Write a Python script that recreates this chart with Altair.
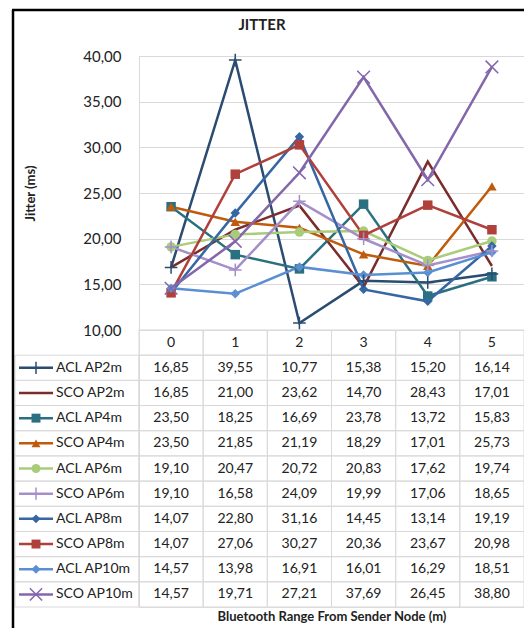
import altair as alt
import pandas as pd

ranges = ["0", "1", "2", "3", "4", "5"]
series_names = ["ACL AP2m", "SCO AP2m", "ACL AP4m", "SCO AP4m", "ACL AP6m",
                "SCO AP6m", "ACL AP8m", "SCO AP8m", "ACL AP10m", "SCO AP10m"]

acl_ap2m = [16.85, 39.55, 10.77, 15.38, 15.20, 16.14]
sco_ap2m = [16.85, 21.00, 23.62, 14.70, 28.43, 17.01]
acl_ap4m = [23.50, 18.25, 16.69, 23.78, 13.72, 15.83]
sco_ap4m = [23.50, 21.85, 21.19, 18.29, 17.01, 25.73]
acl_ap6m = [19.10, 20.47, 20.72, 20.83, 17.62, 19.74]
sco_ap6m = [19.10, 16.58, 24.09, 19.99, 17.06, 18.65]
acl_ap8m = [14.07, 22.80, 31.16, 14.45, 13.14, 19.19]
sco_ap8m = [14.07, 27.06, 30.27, 20.36, 23.67, 20.98]
acl_ap10m = [14.57, 13.98, 16.91, 16.01, 16.29, 18.51]
sco_ap10m = [14.57, 19.71, 27.21, 37.69, 26.45, 38.80]

series_values = [acl_ap2m, sco_ap2m, acl_ap4m, sco_ap4m, acl_ap6m,
                 sco_ap6m, acl_ap8m, sco_ap8m, acl_ap10m, sco_ap10m]

series_colors = ["#2a4b72", "#7b2c2c", "#2a7080", "#c05b0c", "#a9cc7a",
                 "#a58fcb", "#3667a3", "#b0403c", "#5b8fd3", "#8466ab"]

PLUS = "M-1,0H1M0,-1V1"
XMARK = "M-1,-1L1,1M-1,1L1,-1"
series_shapes = [PLUS, "circle", "square", "triangle-up", "circle",
                 PLUS, "diamond", "square", "diamond", XMARK]
series_kind = ["stroke", "none", "filled", "filled", "filled",
               "stroke", "filled", "filled", "filled", "stroke"]

chart_title = "JITTER"
y_title = "Jitter (ms)"
x_title = "Bluetooth Range From Sender Node (m)"

HDR = "hdr"
row_domain = [HDR] + series_names

# ---- data frames ----
long_rows = []
for name, vals, kind in zip(series_names, series_values, series_kind):
    for r, v in zip(ranges, vals):
        long_rows.append({"series": name, "row": name, "range": r, "value": v,
                          "label": f"{v:.2f}".replace(".", ","), "kind": kind})
df_long = pd.DataFrame(long_rows)
df_series = pd.DataFrame({"series": series_names, "row": series_names, "kind": series_kind})
df_hdr = pd.DataFrame({"range": ranges, "row": [HDR] * len(ranges)})
df_one = pd.DataFrame({"t": [chart_title]})

FONT = "Lato"
GRID = "#d9d9d9"
TXT = "#222222"

PLOT_H = 274
TABLE_H = 277
W = 385

X = alt.X("range:O",
          scale=alt.Scale(type="band", domain=ranges, paddingInner=0, paddingOuter=0),
          axis=alt.Axis(labels=False, ticks=False, domain=False, grid=False,
                        titleFont=FONT, titleFontSize=13, titleFontWeight="bold",
                        titleColor=TXT, titlePadding=3),
          title=x_title)

yval_scale = alt.Scale(domain=[10, 40], range=[PLOT_H, 0], nice=False, zero=False)
Y_VAL_AXIS = alt.Y("value:Q", scale=yval_scale,
                   axis=alt.Axis(values=[10, 15, 20, 25, 30, 35, 40],
                                 labelExpr="replace(format(datum.value, '.2f'), '.', ',')",
                                 grid=True, gridColor=GRID, gridWidth=1,
                                 domain=True, domainColor=GRID, ticks=False,
                                 labelPadding=18, labelFont=FONT, labelFontSize=15,
                                 labelColor=TXT,
                                 titleFont=FONT, titleFontSize=13, titleFontWeight="bold",
                                 titleColor=TXT, titleX=-109, titleY=137, titleAngle=-90,
                                 titleAlign="center", titleBaseline="middle"),
                   title=y_title)
Y_VAL = alt.Y("value:Q", scale=yval_scale, axis=None)
Y_ROW = alt.Y("row:N", scale=alt.Scale(type="band", domain=row_domain,
                                        range=[PLOT_H, PLOT_H + TABLE_H],
                                        paddingInner=0, paddingOuter=0), axis=None)

COLOR = alt.Color("series:N", scale=alt.Scale(domain=series_names, range=series_colors), legend=None)
SHAPE = alt.Shape("series:N", scale=alt.Scale(domain=series_names, range=series_shapes), legend=None)

# ---- table ----
cells = alt.Chart(df_long).mark_rect(fill="transparent", stroke=GRID, strokeWidth=1).encode(
    x=X, y=Y_ROW)
hdr_cells = alt.Chart(df_hdr).mark_rect(fill="transparent", stroke=GRID, strokeWidth=1).encode(
    x=X, y=Y_ROW)
label_cells = alt.Chart(df_series).mark_rect(fill="transparent", stroke=GRID, strokeWidth=1).encode(
    x=alt.value(-124), x2=alt.value(0), y=Y_ROW)

value_text = alt.Chart(df_long).mark_text(font=FONT, fontSize=14, color=TXT).encode(
    x=X, y=Y_ROW, text="label:N")
hdr_text = alt.Chart(df_hdr).mark_text(font=FONT, fontSize=14, color=TXT).encode(
    x=X, y=Y_ROW, text="range:N")
label_text = alt.Chart(df_series).mark_text(font=FONT, fontSize=14, color=TXT, align="left").encode(
    x=alt.value(-83), y=Y_ROW, text="row:N")

legend_line = alt.Chart(df_series).mark_rule(strokeWidth=2.5).encode(
    x=alt.value(-120), x2=alt.value(-86), y=Y_ROW, color=COLOR)
legend_filled = alt.Chart(df_series).transform_filter(alt.datum.kind == "filled").mark_point(
    filled=True, size=80, opacity=1).encode(
    x=alt.value(-103), y=Y_ROW, color=COLOR, shape=SHAPE)
legend_stroke = alt.Chart(df_series).transform_filter(alt.datum.kind == "stroke").mark_point(
    filled=False, size=150, strokeWidth=1.5, opacity=1).encode(
    x=alt.value(-103), y=Y_ROW, color=COLOR, shape=SHAPE)

# ---- plot ----
lines = alt.Chart(df_long).mark_line(strokeWidth=2.5).encode(
    x=X, y=Y_VAL_AXIS, color=COLOR, detail="series:N")
pts_filled = alt.Chart(df_long).transform_filter(alt.datum.kind == "filled").mark_point(
    filled=True, size=90, opacity=1).encode(x=X, y=Y_VAL, color=COLOR, shape=SHAPE)
pts_stroke = alt.Chart(df_long).transform_filter(alt.datum.kind == "stroke").mark_point(
    filled=False, size=160, strokeWidth=1.5, opacity=1).encode(x=X, y=Y_VAL, color=COLOR, shape=SHAPE)

# ---- title and outer frame ----
title_text = alt.Chart(df_one).mark_text(font=FONT, fontSize=15, fontWeight="bold", color=TXT).encode(
    x=alt.value(123), y=alt.value(-31), text="t:N")
frame_left = alt.Chart(df_one).mark_rule(color="black", strokeWidth=2.5).encode(
    x=alt.value(-126), y=alt.value(-46), y2=alt.value(620))
frame_top = alt.Chart(df_one).mark_rule(color="black", strokeWidth=2.5).encode(
    x=alt.value(-127), x2=alt.value(420), y=alt.value(-46))

chart = alt.layer(
    cells, hdr_cells, label_cells, value_text, hdr_text, label_text,
    legend_line, legend_filled, legend_stroke,
    lines, pts_filled, pts_stroke, title_text, frame_left, frame_top
).resolve_scale(y="independent").properties(
    width=W, height=PLOT_H + TABLE_H,
    autosize=alt.AutoSizeParams(type="none"),
    padding={"left": 131, "top": 48, "right": 0, "bottom": 21},
).configure_view(stroke=None).configure(background="white")

chart.save("out.html", embed_options={"renderer": "svg", "actions": False})
